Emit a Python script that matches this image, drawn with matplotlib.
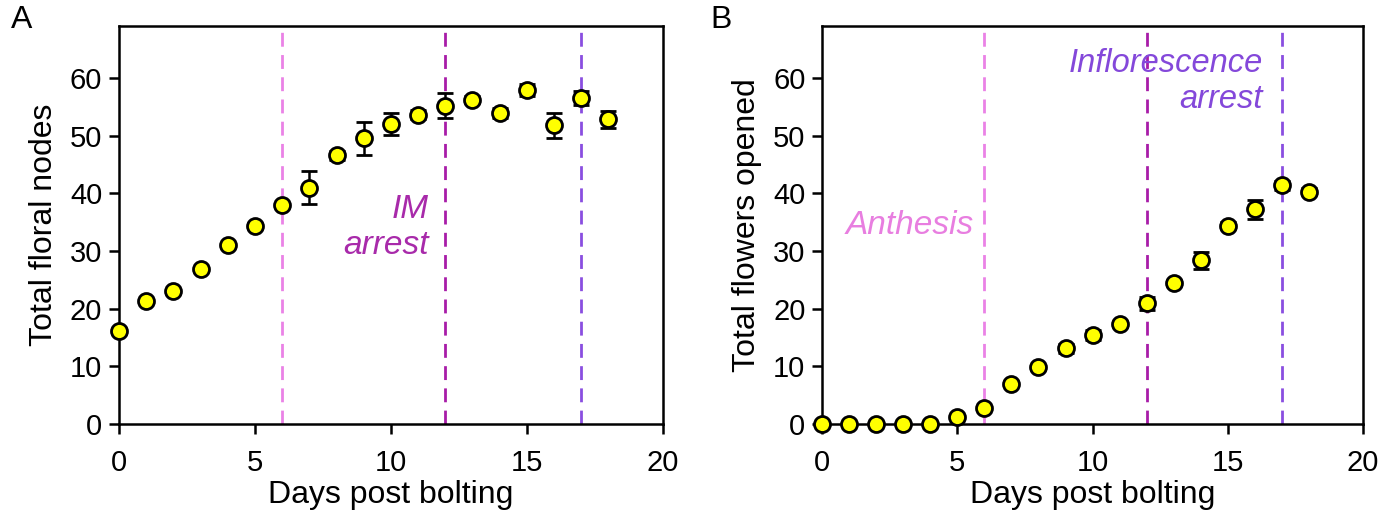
import matplotlib
matplotlib.use('Agg')
import matplotlib.pyplot as plt

plt.rcParams['font.family'] = ['Liberation Sans', 'DejaVu Sans']

# DATA

days = list(range(19))

nodes = [16.1, 21.3, 23.0, 26.8, 31.0, 34.3, 37.9, 41.0, 46.6, 49.5,
         52.0, 53.6, 55.2, 56.2, 53.9, 57.9, 51.8, 56.5, 52.8]
nodes_err = [0.5, 0.4, 0.4, 0.4, 0.4, 0.5, 0.5, 2.8, 0.8, 2.8,
             1.9, 0.8, 2.2, 0.6, 0.8, 1.0, 2.2, 1.2, 1.5]

flowers = [0, 0, 0, 0, 0, 1.3, 2.8, 7.0, 9.8, 13.1,
           15.4, 17.3, 20.9, 24.5, 28.4, 34.4, 37.2, 41.4, 40.3]
flowers_err = [0, 0, 0, 0, 0, 0.3, 0.4, 0.4, 0.4, 0.8,
               0.9, 0.5, 1.2, 0.5, 1.5, 0.6, 1.6, 0.8, 0.6]

event_days = [6, 12, 17]
event_colors = ['#EA82E6', '#A81CA8', '#8A4EE0']

x_ticks = [0, 5, 10, 15, 20]
y_ticks = [0, 10, 20, 30, 40, 50, 60]


# PLOTTING

fig = plt.figure(figsize=(13.83, 5.22), dpi=100)
axA = fig.add_axes([0.086, 0.1877, 0.3933, 0.7625])
axB = fig.add_axes([0.5944, 0.1877, 0.3912, 0.7625])


def style_axes(ax, ylabel):
    ax.set_xlim(0, 20)
    ax.set_ylim(0, 69)
    ax.set_xticks(x_ticks)
    ax.set_yticks(y_ticks)
    ax.tick_params(direction='out', length=7, width=1.8, labelsize=21)
    ax.tick_params(axis='x', pad=11)
    ax.tick_params(axis='y', pad=5)
    for s in ax.spines.values():
        s.set_linewidth(1.8)
    ax.set_xlabel('Days post bolting', fontsize=23, labelpad=2)
    ax.set_ylabel(ylabel, fontsize=23, labelpad=8)
    for d, c in zip(event_days, event_colors):
        ax.axvline(d, color=c, lw=2, ls=(0, (5, 3)), zorder=1)


def draw_points(ax, y, yerr):
    ax.errorbar(days, y, yerr=yerr, fmt='o', ms=11.5, mfc='#FFFF00', mec='black',
                mew=2, ecolor='black', elinewidth=1.8, capsize=6, capthick=1.8,
                zorder=3, clip_on=False)


style_axes(axA, 'Total floral nodes')
draw_points(axA, nodes, nodes_err)
axA.text(11.4, 34, 'IM\narrest', color='#A82AAA', fontsize=24, style='italic',
         ha='right', va='center', linespacing=1.2)

style_axes(axB, 'Total flowers opened')
draw_points(axB, flowers, flowers_err)
axB.text(5.6, 34.5, 'Anthesis', color='#E87EE0', fontsize=24, style='italic',
         ha='right', va='center')
axB.text(16.3, 59.4, 'Inflorescence\narrest', color='#8448DA', fontsize=23.5,
         style='italic', ha='right', va='center', linespacing=1.2)

fig.text(0.008, 0.962, 'A', fontsize=23, va='center')
fig.text(0.514, 0.962, 'B', fontsize=23, va='center')

fig.savefig('out.png', dpi=100)
